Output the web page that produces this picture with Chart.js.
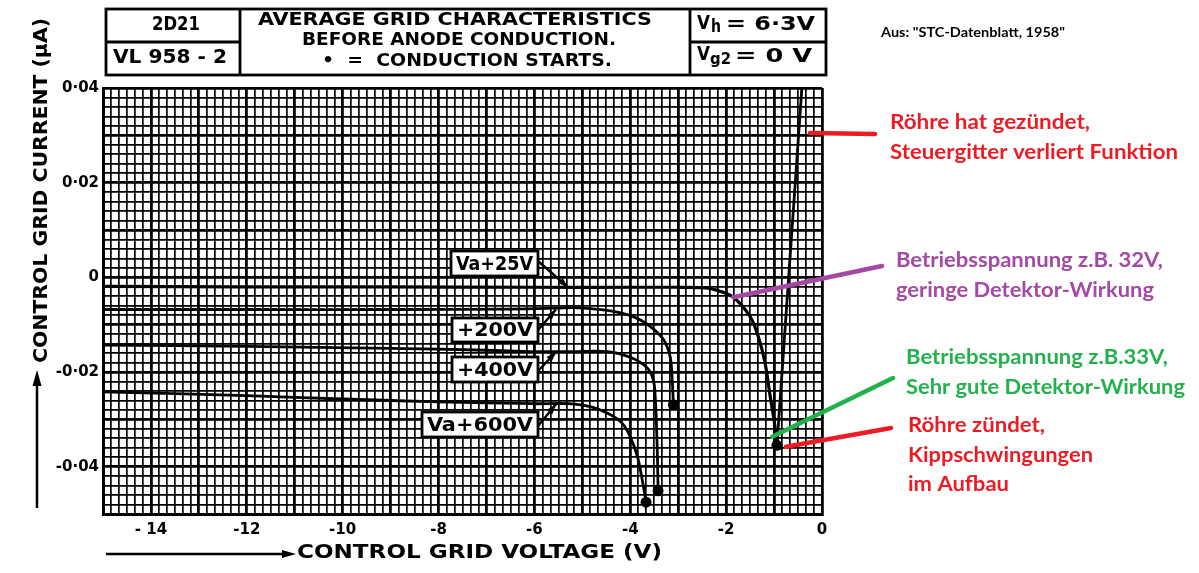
<!DOCTYPE html>
<html><head><meta charset="utf-8">
<script src="https://cdn.jsdelivr.net/npm/chart.js@4.4.0/dist/chart.umd.min.js"></script>
<style>html,body{margin:0;padding:0;background:#fff;}canvas{display:block}</style>
</head><body>
<canvas id="c" width="1199" height="573"></canvas>
<script>
// ---- axis ticks ----
const xTickValues = [-14, -12, -10, -8, -6, -4, -2, 0];
const xTickLabels = ['- 14', '-12', '-10', '-8', '-6', '-4', '-2', '0'];
const yTickValues = [0.04, 0.02, 0, -0.02, -0.04];
const yTickLabels = ['0·04', '0·02', '0', '-0·02', '-0·04'];

// ---- series (control grid voltage V, control grid current µA) ----
const va25X = [-15, -12, -9, -6, -4, -3, -2.48, -2.2, -1.85, -1.5, -1.33, -1.19, -1.08, -0.98, -0.94];
const va25Y = [-0.0019, -0.0020, -0.0020, -0.0021, -0.0021, -0.0021, -0.0022, -0.0027, -0.0042, -0.0083, -0.0125, -0.0180, -0.0252, -0.0316, -0.0355];
const ignX = [-0.94, -0.42];
const ignY = [-0.0355, 0.040];
const va200X = [-15, -12, -9, -6.5, -5.5, -5.19, -4.48, -3.94, -3.58, -3.31, -3.17, -3.125, -3.10];
const va200Y = [-0.0068, -0.0068, -0.0068, -0.0067, -0.0065, -0.0064, -0.0070, -0.0083, -0.0104, -0.0131, -0.0167, -0.0216, -0.0269];
const va400X = [-15, -12, -9, -7, -6, -5.19, -4.48, -4.0, -3.65, -3.52, -3.48, -3.45, -3.43, -3.42];
const va400Y = [-0.0143, -0.0146, -0.0150, -0.0154, -0.0157, -0.0157, -0.0157, -0.0169, -0.0191, -0.0216, -0.0252, -0.0322, -0.0392, -0.0451];
const va600X = [-15, -12, -10, -8, -6, -5.3, -4.8, -4.45, -4.17, -4.0, -3.85, -3.75, -3.67];
const va600Y = [-0.0242, -0.0250, -0.0257, -0.0263, -0.0267, -0.0267, -0.0274, -0.0288, -0.0308, -0.0337, -0.0379, -0.0428, -0.0475];
const seriesLabels = ['Va+25V', '+200V', '+400V', 'Va+600V'];

// label arrows point at these curve positions
const labelAnchorX = [-5.3, -5.55, -5.55, -5.55];
const labelAnchorY = [-0.0021, -0.0068, -0.0158, -0.0268];

// annotation notes
const noteTexts = [
  ['Röhre hat gezündet,', 'Steuergitter verliert Funktion'],
  ['Betriebsspannung z.B. 32V,', 'geringe Detektor-Wirkung'],
  ['Betriebsspannung z.B.33V,', 'Sehr gute Detektor-Wirkung'],
  ['Röhre zündet,', 'Kippschwingungen', 'im Aufbau']
];
const noteAnchorX = [-0.25, -1.85, -1.04, -0.75];
const noteAnchorY = [0.0305, -0.0042, -0.0337, -0.0358];

const pts = (xs, ys) => xs.map((x, i) => ({x: x, y: ys[i]}));
const dotAt = (n, idx) => Array.from({length: n}, (_, i) => (i === idx ? 5.5 : 0));

const RED = '#ED1C24', PURPLE = '#A349A4', GREEN = '#22B14C';

function fitText(ctx, text, x, y, w, font, color) {
  ctx.save();
  ctx.font = font; ctx.fillStyle = color; ctx.textBaseline = 'middle'; ctx.textAlign = 'left';
  const m = ctx.measureText(text).width;
  ctx.translate(x, y); ctx.scale(w / m, 1);
  ctx.fillText(text, 0, 0);
  ctx.restore();
}
function arrowHead(ctx, x1, y1, x2, y2, size, wid) {
  const a = Math.atan2(y2 - y1, x2 - x1);
  ctx.beginPath();
  ctx.moveTo(x2, y2);
  ctx.lineTo(x2 - size * Math.cos(a) + wid * Math.sin(a), y2 - size * Math.sin(a) - wid * Math.cos(a));
  ctx.lineTo(x2 - size * Math.cos(a) - wid * Math.sin(a), y2 - size * Math.sin(a) + wid * Math.cos(a));
  ctx.closePath(); ctx.fill();
}
function line(ctx, x1, y1, x2, y2) { ctx.beginPath(); ctx.moveTo(x1, y1); ctx.lineTo(x2, y2); ctx.stroke(); }

const HF = '"DejaVu Sans Condensed", "DejaVu Sans", sans-serif';
const NF = 'bold 21px Lato, "Open Sans", sans-serif';

const overlay = {
  id: 'overlay',
  afterDraw(chart) {
    const ctx = chart.ctx, xs = chart.scales.x, ys = chart.scales.y;
    ctx.save();
    ctx.strokeStyle = '#000'; ctx.fillStyle = '#000'; ctx.lineCap = 'butt';
    // header table
    ctx.lineWidth = 2.8;
    ctx.strokeRect(106, 9, 720, 66);
    line(ctx, 240, 9, 240, 75); line(ctx, 690, 9, 690, 75);
    line(ctx, 106, 42, 240, 42); line(ctx, 690, 42, 826, 42);
    fitText(ctx, '2D21', 152, 25, 48, 'bold 19px ' + HF, '#000');
    fitText(ctx, 'VL 958 - 2', 113, 58, 114, 'bold 19px ' + HF, '#000');
    fitText(ctx, 'AVERAGE GRID CHARACTERISTICS', 258, 20, 394, 'bold 18px ' + HF, '#000');
    fitText(ctx, 'BEFORE ANODE CONDUCTION.', 302, 40, 314, 'bold 18px ' + HF, '#000');
    fitText(ctx, '•  =  CONDUCTION STARTS.', 322, 61, 290, 'bold 18px ' + HF, '#000');
    fitText(ctx, 'V', 697, 24, 13, 'bold 20px ' + HF, '#000');
    fitText(ctx, 'h', 711, 28, 10, 'bold 17px ' + HF, '#000');
    fitText(ctx, '= 6·3V', 726, 25, 89, 'bold 19px ' + HF, '#000');
    fitText(ctx, 'V', 697, 55, 13, 'bold 20px ' + HF, '#000');
    fitText(ctx, 'g2', 710, 60, 21, 'bold 16px ' + HF, '#000');
    fitText(ctx, '= 0 V', 735, 57, 77, 'bold 19px ' + HF, '#000');
    // source note
    fitText(ctx, 'Aus: "STC-Datenblatt, 1958"', 881, 33, 184, 'bold 13px Lato, sans-serif', '#000');

    // y axis title
    ctx.save();
    ctx.translate(42, 363); ctx.rotate(-Math.PI / 2);
    fitText(ctx, 'CONTROL GRID CURRENT (μA)', 0, 0, 345, 'bold 20px ' + HF, '#000');
    ctx.restore();
    ctx.lineWidth = 2.5;
    line(ctx, 37, 508, 37, 384);
    arrowHead(ctx, 37, 508, 37, 370, 16, 4.5);
    // x axis title
    line(ctx, 106, 554, 284, 554);
    arrowHead(ctx, 106, 554, 296, 554, 14, 4);
    fitText(ctx, 'CONTROL GRID VOLTAGE (V)', 297, 553, 365, 'bold 20px ' + HF, '#000');

    // curve label boxes
    const boxes = [[451, 251, 87, 25], [452, 318, 86, 24], [452, 357, 86, 25], [422, 412, 116, 25]];
    const starts = [[538, 261], [538, 330], [538, 371], [538, 426]];
    boxes.forEach((b, i) => {
      ctx.fillStyle = '#fff';
      ctx.fillRect(b[0], b[1], b[2], b[3]);
      ctx.lineWidth = 2.8; ctx.strokeStyle = '#000';
      ctx.strokeRect(b[0], b[1], b[2], b[3]);
      fitText(ctx, seriesLabels[i], b[0] + 5, b[1] + b[3] / 2 + 1, b[2] - 10, 'bold 20px ' + HF, '#000');
      const ax = xs.getPixelForValue(labelAnchorX[i]), ay = ys.getPixelForValue(labelAnchorY[i]);
      ctx.fillStyle = '#000'; ctx.lineWidth = 2.4;
      line(ctx, starts[i][0], starts[i][1], ax, ay);
      arrowHead(ctx, starts[i][0], starts[i][1], ax, ay, 10, 3.5);
    });

    // coloured notes
    const noteColors = [RED, PURPLE, GREEN, RED];
    const noteEnds = [[875, 134], [882, 266], [893, 378], [891, 428]];
    const noteX = [890, 896, 906, 908];
    const noteY = [[122, 152], [260, 290], [357, 387], [425, 455, 484]];
    const noteW = [[200, 288], [267, 258], [262, 279], [137, 185, 101]];
    ctx.lineCap = 'round';
    noteTexts.forEach((lines, i) => {
      ctx.strokeStyle = noteColors[i]; ctx.lineWidth = 4.5;
      line(ctx, xs.getPixelForValue(noteAnchorX[i]), ys.getPixelForValue(noteAnchorY[i]), noteEnds[i][0], noteEnds[i][1]);
      lines.forEach((t, j) => fitText(ctx, t, noteX[i], noteY[i][j], noteW[i][j], NF, noteColors[i]));
    });
    ctx.restore();
  }
};

const isMult = (v, step) => Math.abs(v / step - Math.round(v / step)) < 1e-6;
const lookup = (v, vals, labels) => { const i = vals.findIndex(t => Math.abs(t - v) < 1e-9); return i >= 0 ? labels[i] : ''; };

const ds = (data, dotIdx, extra) => Object.assign({
  data: data, borderColor: '#000', borderWidth: 2.8, tension: 0.35, fill: false,
  pointRadius: dotAt(data.length, dotIdx), pointHoverRadius: 0,
  pointBackgroundColor: '#000', pointBorderColor: '#000', pointBorderWidth: 0
}, extra || {});

new Chart(document.getElementById('c'), {
  type: 'line',
  data: {
    datasets: [
      ds(pts(va25X, va25Y), va25X.length - 1, {label: seriesLabels[0], borderWidth: 3.2}),
      ds(pts(ignX, ignY), -1, {label: 'ignition', tension: 0}),
      ds(pts(va200X, va200Y), va200X.length - 1, {label: seriesLabels[1]}),
      ds(pts(va400X, va400Y), va400X.length - 1, {label: seriesLabels[2]}),
      ds(pts(va600X, va600Y), va600X.length - 1, {label: seriesLabels[3]})
    ]
  },
  options: {
    responsive: false, animation: false, devicePixelRatio: 1,
    layout: {padding: {left: 0, top: 88, right: 377, bottom: 0}},
    plugins: {legend: {display: false}, tooltip: {enabled: false}},
    scales: {
      x: {
        type: 'linear', min: -15, max: 0,
        afterFit: s => { s.height = 59; },
        ticks: {stepSize: 1 / 6, autoSkip: false, maxRotation: 0, minRotation: 0, padding: 7,
          color: '#000', font: {family: 'DejaVu Sans', size: 15, weight: 'bold'},
          callback: v => lookup(v, xTickValues, xTickLabels)},
        grid: {drawTicks: false, color: '#000',
          lineWidth: c => (c.tick && isMult(c.tick.value, 1) ? 2.8 : 1.7)},
        border: {display: true, width: 3, color: '#000'}
      },
      y: {
        min: -0.05, max: 0.04,
        afterFit: s => { s.width = 103; },
        ticks: {stepSize: 0.002, autoSkip: false, padding: 4,
          color: '#000', font: {family: 'DejaVu Sans', size: 15, weight: 'bold'},
          callback: v => lookup(v, yTickValues, yTickLabels)},
        grid: {drawTicks: false, color: '#000',
          lineWidth: c => (c.tick && isMult(c.tick.value, 0.01) ? 2.8 : 1.7)},
        border: {display: true, width: 3, color: '#000'}
      }
    }
  },
  plugins: [overlay]
});
</script>
</body></html>
